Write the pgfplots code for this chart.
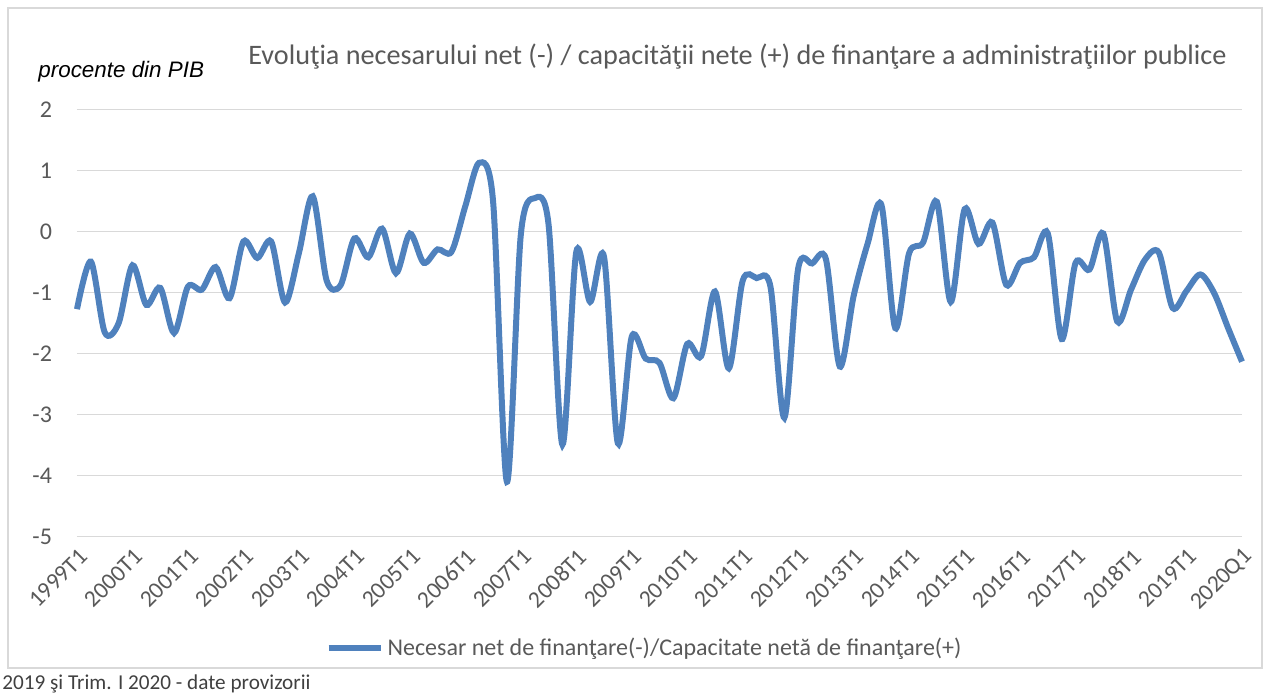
\documentclass[border=0pt]{standalone}
\usepackage{pgfplots}
\pgfplotsset{compat=1.18}
\usepackage{fontspec}
\setmainfont{Carlito}
\newfontfamily\arialfont{Liberation Sans}
\definecolor{linecol}{HTML}{4F81BD}
\definecolor{gridgray}{HTML}{D9D9D9}
\definecolor{txtgray}{HTML}{595959}
\definecolor{footgray}{HTML}{404040}
\begin{document}
\begin{tikzpicture}
\path[use as bounding box] (0pt,0pt) rectangle (635pt,-348pt);
\draw[gridgray, line width=0.75pt] (4pt,-4pt) rectangle (631pt,-334pt);
\node[anchor=center, text=txtgray, font=\fontsize{14.1}{17}\selectfont] at (368.75pt,-28.5pt) {Evoluţia necesarului net (-) / capacităţii nete (+) de finanţare a administraţiilor publice};
\node[anchor=west, inner sep=0pt, font=\arialfont\itshape\fontsize{11.2}{13}\selectfont] at (19pt,-35.8pt) {procente din PIB};
\node[anchor=west, inner sep=0pt, text=footgray, font=\fontsize{10.6}{12}\selectfont] at (1pt,-341.8pt) {2019 şi Trim. I 2020 - date provizorii};
\begin{axis}[
  at={(38.5pt,-268.35pt)}, anchor=south west,
  scale only axis, width=582.5pt, height=213.5pt,
  xmin=0, xmax=84, ymin=-5, ymax=2,
  ytick={-5,-4,-3,-2,-1,0,1,2},
  xtick={0,4,...,84},
  xticklabels={1999T1,2000T1,2001T1,2002T1,2003T1,2004T1,2005T1,2006T1,2007T1,2008T1,2009T1,2010T1,2011T1,2012T1,2013T1,2014T1,2015T1,2016T1,2017T1,2018T1,2019T1,2020Q1},
  ymajorgrids, grid style={draw=gridgray, line width=0.75pt},
  axis line style={draw=none}, major tick length=0pt,
  /pgf/number format/assume math mode=true,
  tick label style={text=txtgray},
  yticklabel style={font=\fontsize{12}{14}\selectfont, xshift=-9pt},
  xticklabel style={font=\fontsize{11.8}{13}\selectfont, rotate=45, anchor=east, xshift=0pt, yshift=-8pt},
  legend style={at={(0.488,-0.2607)}, anchor=center, draw=none, fill=none,
    font=\fontsize{12}{14}\selectfont, text=txtgray},
  legend image code/.code={\draw[#1, line width=3pt] (0pt,0pt) -- (26pt,0pt);},
  clip=false,
]
\addplot[linecol, line width=3pt, smooth, tension=0.5] coordinates {
(0,-1.27) (1,-0.49) (2,-1.65) (3,-1.50) (4,-0.55) (5,-1.20) (6,-0.92) (7,-1.66)
(8,-0.90) (9,-0.95) (10,-0.58) (11,-1.09) (12,-0.16) (13,-0.43) (14,-0.16) (15,-1.16)
(16,-0.35) (17,0.58) (18,-0.80) (19,-0.88) (20,-0.11) (21,-0.42) (22,0.05) (23,-0.68)
(24,-0.03) (25,-0.51) (26,-0.29) (27,-0.33) (28,0.42) (29,1.13) (30,0.50) (31,-4.10)
(32,-0.05) (33,0.55) (34,0.12) (35,-3.49) (36,-0.33) (37,-1.15) (38,-0.41) (39,-3.47)
(40,-1.72) (41,-2.08) (42,-2.15) (43,-2.73) (44,-1.84) (45,-2.04) (46,-0.98) (47,-2.24)
(48,-0.80) (49,-0.76) (50,-0.90) (51,-3.05) (52,-0.60) (53,-0.52) (54,-0.45) (55,-2.21)
(56,-1.05) (57,-0.20) (58,0.44) (59,-1.58) (60,-0.35) (61,-0.18) (62,0.49) (63,-1.15)
(64,0.37) (65,-0.20) (66,0.15) (67,-0.87) (68,-0.51) (69,-0.42) (70,-0.03) (71,-1.76)
(72,-0.51) (73,-0.62) (74,-0.03) (75,-1.47) (76,-0.95) (77,-0.46) (78,-0.34) (79,-1.25)
(80,-0.97) (81,-0.70) (82,-1.01) (83,-1.58) (84,-2.13)
};
\addlegendentry{Necesar net de finanţare(-)/Capacitate netă de finanţare(+)}
\end{axis}
\end{tikzpicture}
\end{document}
